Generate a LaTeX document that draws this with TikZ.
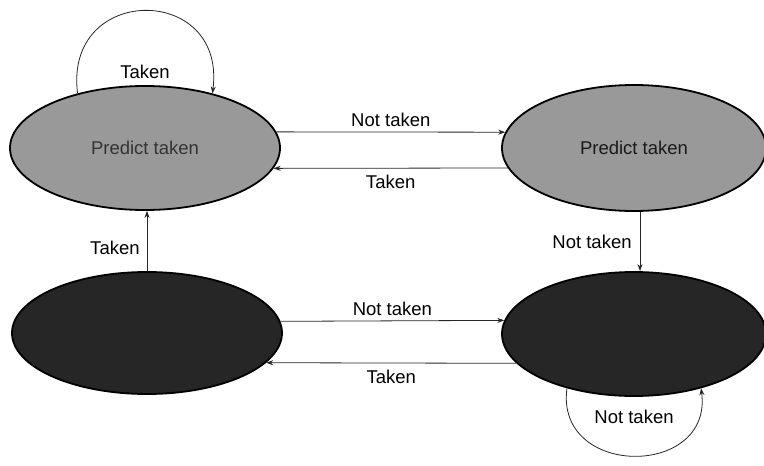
\documentclass[tikz,border=0pt]{standalone}
\usepackage{fontspec}
\setmainfont{Liberation Sans}
\usetikzlibrary{arrows.meta,shapes.geometric}
\begin{document}
\begin{tikzpicture}[x=1pt,y=-1pt,
  font=\fontsize{18.5}{21}\selectfont,
  state/.style={ellipse, draw=black, line width=1.8pt, inner sep=0pt},
  weak/.style={state, fill=black!40},
  strong/.style={state, fill=black!85},
  trans/.style={draw=black!85, line width=0.8pt, -{Stealth[length=7pt,width=5pt]}},
  lbl/.style={inner sep=2pt, text=black}]
\useasboundingbox (0,0) rectangle (764,466);

% four states of the two-bit predictor
\node[weak, minimum width=270pt, minimum height=124pt, text=black!80] (TL) at (145,148) {Predict taken};
\node[weak, minimum width=264pt, minimum height=126pt, text=black!90] (TR) at (634,148) {Predict taken};
\node[strong, minimum width=270pt, minimum height=122pt] (BL) at (147,333) {};
\node[strong, minimum width=264pt, minimum height=124pt] (BR) at (634,334) {};

% top row transitions
\draw[trans] (TL.7) -- node[lbl, midway, above, yshift=3pt] (l1) {Not taken} (TR.173);
\draw[trans] (TR.189.5) -- node[lbl, midway, below, yshift=-5pt] (l2) {Taken} (TL.-9.5);

% bottom row transitions
\draw[trans] (BL.5.7) -- node[lbl, midway, above, yshift=3pt] (l3) {Not taken} (BR.174.3);
\draw[trans] (BR.194.4) -- node[lbl, midway, below, yshift=-5pt] (l4) {Taken} (BL.-14.4);

% vertical transitions
\draw[trans] (BL.north) -- node[lbl, pos=0.38, left, xshift=-5pt] (l5) {Taken} (BL.north |- TL.south);
\draw[trans] ([xshift=6pt]TR.south) -- node[lbl, midway, left, xshift=-6pt] (l6) {Not taken} ([xshift=6pt]BR.north);

% self loops
\draw[trans] (TL.141) .. controls +(-14,-110) and +(14,-110) .. node[lbl, pos=0.5, below, yshift=-52pt] (l7) {Taken} (TL.39);
\draw[trans] (BR.-141) .. controls +(-12,90) and +(12,90) .. node[lbl, pos=0.5, above, yshift=30pt] (l8) {Not taken} (BR.-39);
\end{tikzpicture}
\end{document}
